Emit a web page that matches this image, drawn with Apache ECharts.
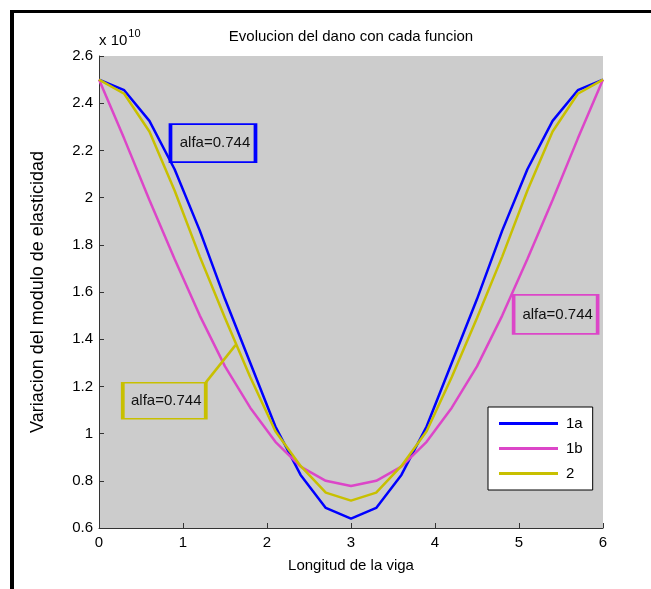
<!DOCTYPE html>
<html>
<head>
<meta charset="utf-8">
<script src="https://cdn.jsdelivr.net/npm/echarts@6/dist/echarts.min.js"></script>
<style>
  html, body { margin: 0; padding: 0; background: #fff; }
  #wrap { position: relative; width: 651px; height: 589px; }
  #chart { position: absolute; left: 0; top: 0; width: 651px; height: 589px; }
  #frame { position: absolute; left: 10px; top: 10px; width: 641px; height: 579px;
           border-left: 4px solid #000; border-top: 3px solid #000; box-sizing: border-box; pointer-events: none; }
</style>
</head>
<body>
<div id="wrap">
  <div id="chart"></div>
  <div id="frame"></div>
</div>
<script>
/* ── data (values in units of 1e10) ── */
const xPos = [0, 0.3, 0.6, 0.9, 1.2, 1.5, 1.8, 2.1, 2.4, 2.7, 3.0, 3.3, 3.6, 3.9, 4.2, 4.5, 4.8, 5.1, 5.4, 5.7, 6.0];
const serie1a = [2.5, 2.455, 2.325, 2.12, 1.86, 1.57, 1.30, 1.03, 0.825, 0.685, 0.64, 0.685, 0.825, 1.03, 1.30, 1.57, 1.86, 2.12, 2.325, 2.455, 2.5];
const serie1b = [2.5, 2.25, 1.99, 1.74, 1.5, 1.285, 1.11, 0.965, 0.86, 0.80, 0.778, 0.80, 0.86, 0.965, 1.11, 1.285, 1.5, 1.74, 1.99, 2.25, 2.5];
const serie2 = [2.5, 2.44, 2.28, 2.03, 1.75, 1.49, 1.24, 1.01, 0.863, 0.75, 0.716, 0.75, 0.863, 1.01, 1.24, 1.49, 1.75, 2.03, 2.28, 2.44, 2.5];
const seriesNames = ["1a", "1b", "2"];
const annotText = "alfa=0.744";
const annot1a = [1.357, 2.231];
const annot1b = [5.436, 1.505];
const annot2 = [0.777, 1.139];
const leader2 = [[1.270, 1.216], [1.625, 1.375]];

/* ── styles ── */
const BLUE = "#0000ff";
const PINK = "#dc46c8";
const YELLOW = "#c8c000";
const FONT = "Liberation Sans, Arial, sans-serif";

const chart = echarts.init(document.getElementById("chart"));

function pairs(ys) { return xPos.map((x, i) => [x, ys[i]]); }

function boxMark(coord, color, size) {
  return {
    silent: true,
    symbol: "rect",
    symbolSize: size,
    itemStyle: { color: "rgba(0,0,0,0)", borderColor: color, borderWidth: 2.5 },
    label: { show: true, position: "inside", formatter: annotText, color: "#111", fontSize: 15, fontFamily: FONT, offset: [2, 0] },
    emphasis: { disabled: true },
    data: [{ coord: coord }],
  };
}

function lineSeries(name, ys, color) {
  return {
    name, type: "line", data: pairs(ys),
    symbol: "none", color,
    lineStyle: { color, width: 2.5 },
    emphasis: { disabled: true },
  };
}

const s1a = lineSeries(seriesNames[0], serie1a, BLUE);
s1a.markPoint = boxMark(annot1a, BLUE, [85, 38]);
const s1b = lineSeries(seriesNames[1], serie1b, PINK);
s1b.markPoint = boxMark(annot1b, PINK, [84, 39]);
const s2 = lineSeries(seriesNames[2], serie2, YELLOW);
s2.markPoint = boxMark(annot2, YELLOW, [83, 36]);
s2.markLine = {
  silent: true, symbol: ["none", "none"],
  lineStyle: { color: YELLOW, width: 2.5, type: "solid" },
  label: { show: false },
  data: [[{ coord: leader2[0] }, { coord: leader2[1] }]],
};

chart.setOption({
  animation: false,
  title: {
    text: "Evolucion del dano con cada funcion",
    left: 351, top: 29, textAlign: "center", padding: 0,
    textStyle: { fontFamily: FONT, fontSize: 15, fontWeight: "normal", color: "#000" },
  },
  legend: {
    data: seriesNames,
    orient: "vertical",
    left: 488, top: 407,
    padding: [9, 10, 9, 11],
    itemWidth: 59, itemHeight: 3, itemGap: 10,
    icon: "rect",
    backgroundColor: "#fff", borderColor: "#000", borderWidth: 1, borderRadius: 0,
    textStyle: { fontFamily: FONT, fontSize: 15, color: "#000", padding: [0, 0, 0, 3] },
    selectedMode: false,
  },
  grid: {
    left: 99, top: 56, width: 504, height: 472,
    show: true, backgroundColor: "#cccccc", borderWidth: 0,
  },
  xAxis: {
    type: "value", min: 0, max: 6, interval: 1,
    name: "Longitud de la viga", nameLocation: "middle", nameGap: 30,
    nameTextStyle: { fontFamily: FONT, fontSize: 15, color: "#000" },
    axisLine: { show: true, onZero: false, lineStyle: { color: "#333", width: 1 } },
    axisTick: { show: true, inside: true, length: 5, lineStyle: { color: "#333" } },
    axisLabel: { fontFamily: FONT, fontSize: 15, color: "#000", margin: 7 },
    splitLine: { show: false },
  },
  yAxis: {
    type: "value", min: 0.6, max: 2.6, interval: 0.2,
    name: "{a|x 10}{b|10}", nameLocation: "end", nameGap: 8,
    nameTextStyle: {
      align: "left", verticalAlign: "bottom", color: "#000",
      rich: {
        a: { fontFamily: FONT, fontSize: 15, color: "#000", verticalAlign: "bottom" },
        b: { fontFamily: FONT, fontSize: 11, color: "#000", verticalAlign: "bottom", padding: [0, 0, 9, 1] },
      },
    },
    axisLine: { show: true, lineStyle: { color: "#333", width: 1 } },
    axisTick: { show: true, inside: true, length: 5, lineStyle: { color: "#333" } },
    axisLabel: { fontFamily: FONT, fontSize: 15, color: "#000", margin: 6 },
    splitLine: { show: false },
  },
  series: [s1a, s1b, s2],
});

/* y axis title as a second axis-free label: a rotated name on the same axis would clash with the x 10^10 name */
chart.setOption({
  yAxis: [{}, {
    type: "value", min: 0.6, max: 2.6, position: "left", offset: 0,
    name: "Variacion del modulo de elasticidad", nameLocation: "middle", nameGap: 52,
    nameTextStyle: { fontFamily: FONT, fontSize: 18, color: "#000" },
    axisLine: { show: false }, axisTick: { show: false }, axisLabel: { show: false, showMinLabel: false, showMaxLabel: false, formatter: () => "" },
    splitLine: { show: false },
  }],
});
</script>
</body>
</html>
